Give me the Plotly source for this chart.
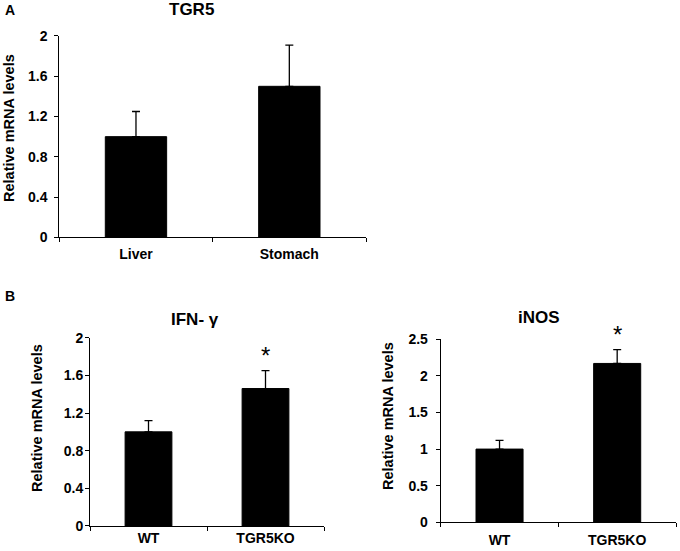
import plotly.graph_objects as go

# panel A: TGR5 expression by tissue
tissues = ["Liver", "Stomach"]
tgr5_mean = [1.0, 1.5]
tgr5_err = [0.25, 0.41]

# panel B: WT vs TGR5KO
genotypes = ["WT", "TGR5KO"]
ifng_mean = [1.0, 1.46]
ifng_err = [0.12, 0.19]
ifng_sig = [False, True]
inos_mean = [1.0, 2.17]
inos_err = [0.12, 0.19]
inos_sig = [False, True]

W, H = 680, 551
FONT = "Liberation Sans, Arial, sans-serif"
# the capture squeezes the page a little vertically; undo that here
Y_OFF, Y_SCALE = 8, 0.971


def px_x(v):
    return v / W


def px_y(v):
    return 1 - ((v - Y_OFF) / Y_SCALE) / H


def bars(x, y, err, xa, ya):
    return go.Bar(
        x=x, y=y, xaxis=xa, yaxis=ya, width=0.4,
        marker=dict(color="black", line=dict(color="black", width=1)),
        error_y=dict(type="data", symmetric=False, array=err,
                     arrayminus=[0] * len(err), color="black",
                     thickness=1.3, width=4),
        showlegend=False, hoverinfo="skip",
    )


fig = go.Figure()
fig.add_trace(bars(tissues, tgr5_mean, tgr5_err, "x", "y"))
fig.add_trace(bars(genotypes, ifng_mean, ifng_err, "x2", "y2"))
fig.add_trace(bars(genotypes, inos_mean, inos_err, "x3", "y3"))

xcommon = dict(showline=True, linecolor="black", linewidth=1, ticks="outside",
               tickson="boundaries", ticklen=4, tickcolor="black",
               showgrid=False, zeroline=False, range=[-0.5, 1.5],
               tickfont=dict(family=FONT, size=14, color="black", weight="bold"))
ycommon = dict(showline=True, linecolor="black", linewidth=1, ticks="outside",
               ticklen=4, tickcolor="black", showgrid=False, zeroline=False,
               tickfont=dict(family=FONT, size=14, color="black", weight="bold"))

fig.update_layout(
    width=W, height=H,
    margin=dict(l=0, r=0, t=0, b=0),
    paper_bgcolor="white", plot_bgcolor="white",
    xaxis=dict(xcommon, domain=[px_x(59.3), px_x(366)], anchor="y",
               ticklabelstandoff=4),
    yaxis=dict(ycommon, domain=[px_y(237.3), px_y(36)], range=[0, 2],
               dtick=0.4, anchor="x", ticklabelstandoff=4),
    xaxis2=dict(xcommon, domain=[px_x(90), px_x(324)], anchor="y2",
                ticklabelstandoff=-1),
    yaxis2=dict(ycommon, domain=[px_y(526), px_y(337.7)], range=[0, 2],
                dtick=0.4, anchor="x2", ticklabelstandoff=-1),
    xaxis3=dict(xcommon, domain=[px_x(440.7), px_x(676)], anchor="y3",
                ticklabelstandoff=5),
    yaxis3=dict(ycommon, domain=[px_y(522.3), px_y(339.3)], range=[0, 2.5],
                dtick=0.5, anchor="x3", ticklabelstandoff=5),
)

# significance stars above the error bars
for xa, ya, means, errs, sig in [("x2", "y2", ifng_mean, ifng_err, ifng_sig),
                                 ("x3", "y3", inos_mean, inos_err, inos_sig)]:
    for g, m, e, s in zip(genotypes, means, errs, sig):
        if s:
            fig.add_annotation(text="*", xref=xa, yref=ya, x=g, y=m + e,
                               showarrow=False, yanchor="middle", yshift=15,
                               font=dict(family=FONT, size=24, color="black"))

bold = dict(family=FONT, color="black", weight="bold")
notes = [
    ("A", 3, 10.5, 14, 0, "left"),
    ("B", 3, 296, 14, 0, "left"),
    ("TGR5", 191, 10, 17, 0, "center"),
    ("IFN- γ", 195, 320, 17, 0, "center"),
    ("iNOS", 539, 317.5, 17, 0, "center"),
    ("Relative mRNA levels", 9, 128, 14.5, -90, "center"),
    ("Relative mRNA levels", 37, 418, 14.5, -90, "center"),
    ("Relative mRNA levels", 388, 416, 14.5, -90, "center"),
]
for txt, x, y, size, ang, anch in notes:
    fig.add_annotation(text=txt, xref="paper", yref="paper",
                       x=px_x(x), y=px_y(y), showarrow=False,
                       xanchor=anch, yanchor="middle", textangle=ang,
                       font=dict(bold, size=size))

# drop the default page spacing so the figure sits at 0,0
fig.write_html(
    "out.html",
    config={"displayModeBar": False},
    post_script="for (const el of [document.documentElement, document.body]) {"
                "el.style.margin='0'; el.style.padding='0';"
                "el.style.overflow='hidden'; }",
)
